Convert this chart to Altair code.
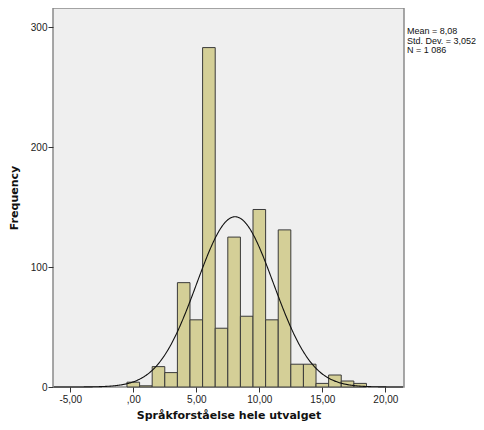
import altair as alt
import pandas as pd

# Histogram bins (bin width 1, centred on integers)
bin_centers = [0, 1, 2, 3, 4, 5, 6, 7, 8, 9, 10, 11, 12, 13, 14, 15, 16, 17, 18]
counts = [4, 1, 17, 12, 87, 56, 283, 49, 125, 59, 148, 56, 131, 19, 19, 3, 10, 5, 3]
bin_width = 1.0

# Summary statistics shown in the chart
mean = 8.08
sd = 3.052
n = 1086

x_ticks = [-5, 0, 5, 10, 15, 20]
y_ticks = [0, 100, 200, 300]
x_domain = [-6.37, 21.48]
y_domain = [0, 316]

stats_text = "Mean = 8,08\nStd. Dev. = 3,052\nN = 1 086"
x_title = "Språkforståelse hele utvalget"
y_title = "Frequency"

df = pd.DataFrame({
    "lo": [c - bin_width / 2 for c in bin_centers],
    "hi": [c + bin_width / 2 for c in bin_centers],
    "count": counts,
})

label_expr = ("datum.value == 0 ? ',00' : "
              "(datum.value < 0 ? '-' : '') + replace(format(abs(datum.value), '.2f'), '.', ',')")

xscale = alt.Scale(domain=x_domain, nice=False, zero=False)
yscale = alt.Scale(domain=y_domain, nice=False)

bars = alt.Chart(df).mark_rect(
    fill="#D4CF97", stroke="#3a3a3a", strokeWidth=1
).encode(
    x=alt.X("lo:Q", scale=xscale, title=x_title,
            axis=alt.Axis(values=x_ticks, labelExpr=label_expr, grid=False,
                          domain=False, tickSize=5, tickColor="#333",
                          labelFont="Liberation Sans", labelFontSize=10,
                          labelColor="#222", labelPadding=2,
                          titleFont="DejaVu Sans", titleFontWeight="bold",
                          titleFontSize=11, titleColor="#111", titlePadding=5)),
    x2="hi:Q",
    y=alt.Y("count:Q", scale=yscale, title=y_title,
            axis=alt.Axis(values=y_ticks, grid=False, domain=False,
                          tickSize=5, tickColor="#333",
                          labelFont="Liberation Sans", labelFontSize=10,
                          labelColor="#222", labelPadding=1,
                          titleFont="DejaVu Sans", titleFontWeight="bold",
                          titleFontSize=11, titleColor="#111", titlePadding=11)),
    y2=alt.datum(0),
)

curve = alt.Chart(alt.sequence(-6.3, 21.45, 0.05, as_="x")).transform_calculate(
    y=f"{n} * {bin_width} * exp(-0.5 * pow((datum.x - {mean}) / {sd}, 2)) / ({sd} * sqrt(2 * PI))"
).mark_line(color="#111", strokeWidth=1.1).encode(
    x=alt.X("x:Q", scale=xscale),
    y=alt.Y("y:Q", scale=yscale),
)

stats = alt.Chart(pd.DataFrame({"t": [stats_text]})).mark_text(
    align="left", baseline="top", lineBreak="\n", lineHeight=9.5,
    font="Liberation Sans", fontSize=9, color="#111"
).encode(
    x=alt.value(354), y=alt.value(19), text="t:N"
)

chart = alt.layer(bars, curve, stats).properties(
    width=351, height=379,
    background="white",
    autosize=alt.AutoSizeParams(type="none"),
    padding={"left": 45, "top": 0, "right": 72, "bottom": 35},
).configure_view(
    fill="#EFEFEF", stroke="#8a8a8a", strokeWidth=1.5
)

chart.save("out.html", embed_options={"renderer": "svg", "actions": False})
